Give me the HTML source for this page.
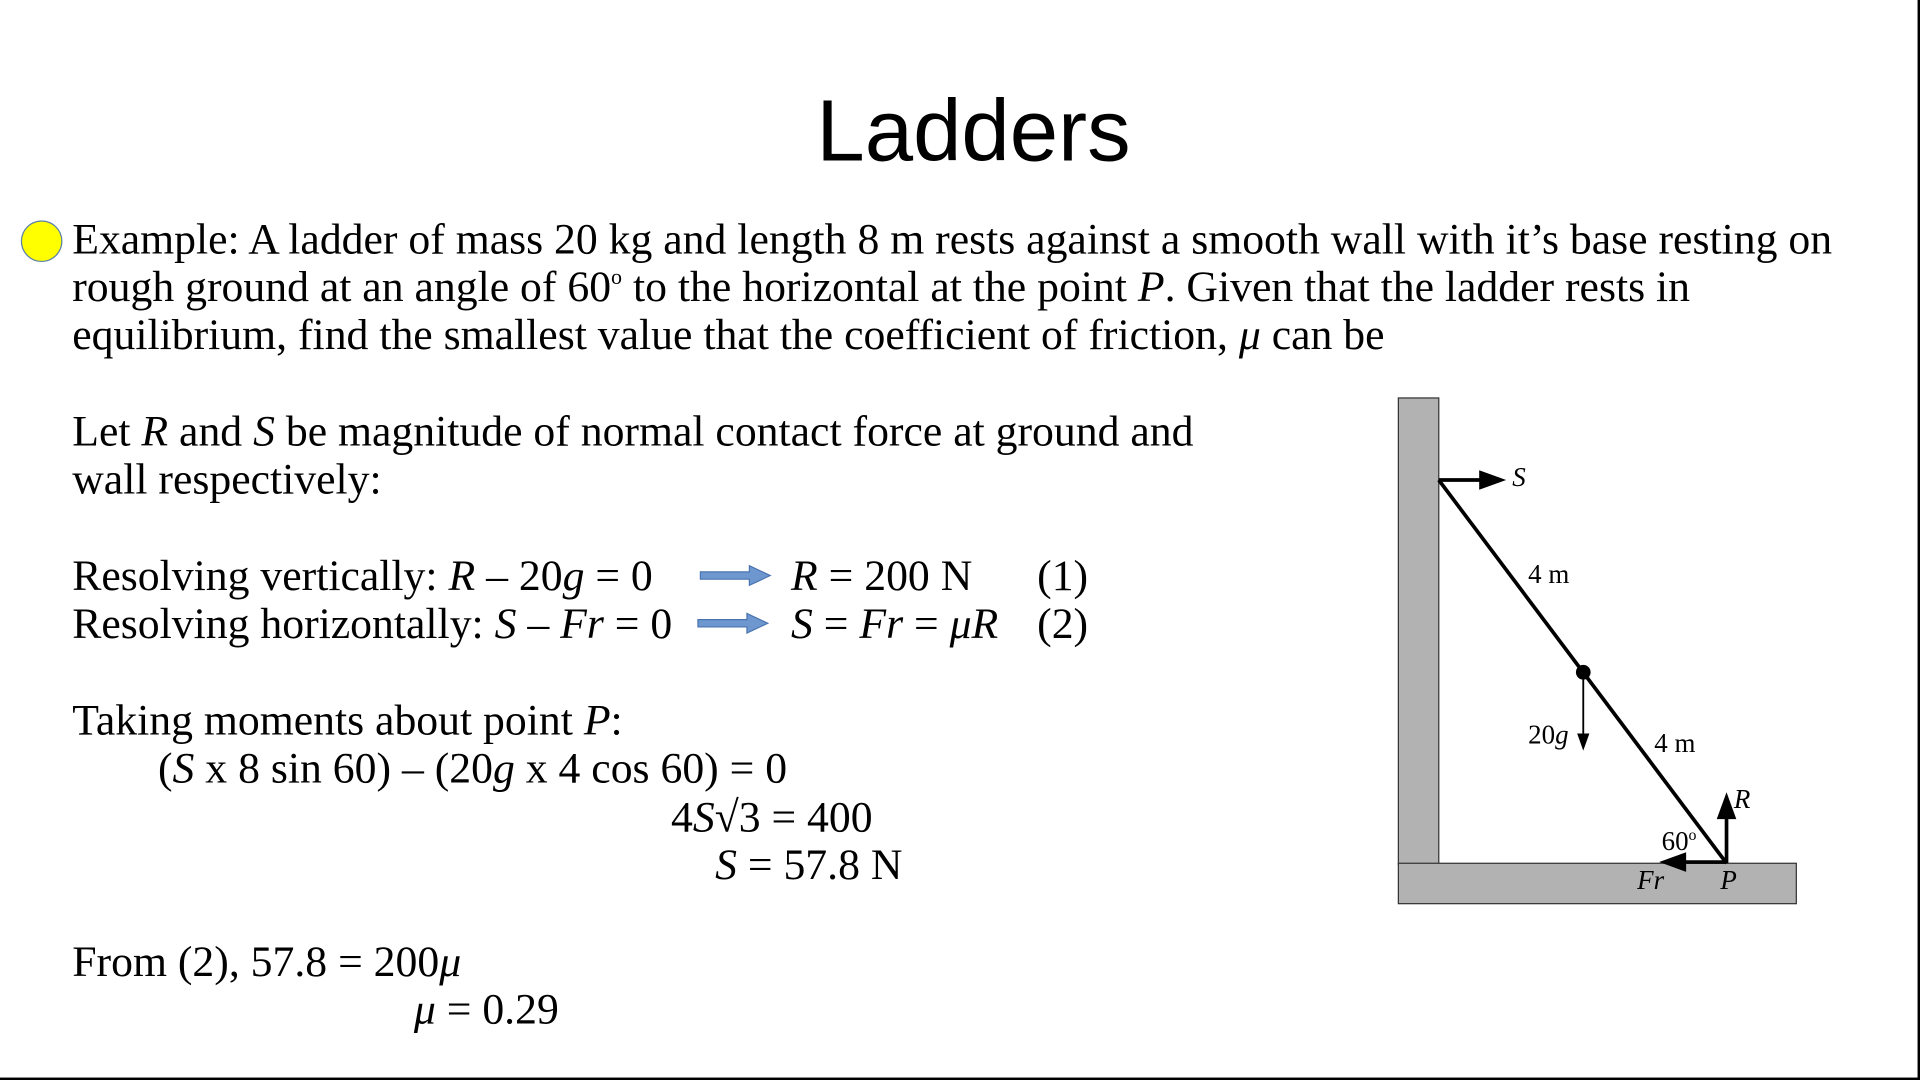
<!DOCTYPE html>
<html><head><meta charset="utf-8"><style>
html,body{margin:0;padding:0;background:#fff;overflow:hidden}
#s{position:absolute;left:0;top:0;width:1568px;height:882px;transform:scale(1.22449);transform-origin:0 0;font-family:"Liberation Serif",serif;color:#000}
.t{position:absolute;white-space:nowrap;font-size:35.7px;line-height:39px}
i{font-style:italic}
sup{font-size:18px;line-height:0;vertical-align:0;position:relative;top:-14px}
</style></head><body><div id="s">
<div style="position:absolute;left:1566px;top:0;width:2px;height:882px;background:#000"></div>
<div style="position:absolute;left:0;top:880px;width:1568px;height:2px;background:#000"></div>
<div class="t" style="left:0;width:1590px;text-align:center;top:67px;font-family:'Liberation Sans',sans-serif;font-size:71px;line-height:82px">Ladders</div>
<div style="position:absolute;left:17px;top:180px;width:32px;height:32px;border-radius:50%;background:#ff0;border:1px solid #5a7fa8"></div>
<div class="t" style="left:59px;top:176px">Example: A ladder of mass 20 kg and length 8 m rests against a smooth wall with it’s base resting on<br>rough ground at an angle of 60<sup>o</sup> to the horizontal at the point <i>P</i>. Given that the ladder rests in<br>equilibrium, find the smallest value that the coefficient of friction, <i>μ</i> can be</div>
<div class="t" style="left:59px;top:333px">Let <i>R</i> and <i>S</i> be magnitude of normal contact force at ground and<br>wall respectively:</div>
<div class="t" style="left:59px;top:451px">Resolving vertically: <i>R</i> – 20<i>g</i> = 0</div>
<div class="t" style="left:59px;top:490px">Resolving horizontally: <i>S</i> – <i>Fr</i> = 0</div>
<div class="t" style="left:646px;top:451px"><i>R</i> = 200 N</div>
<div class="t" style="left:646px;top:490px"><i>S</i> = <i>Fr</i> = <i>μR</i></div>
<div class="t" style="left:847px;top:451px">(1)</div>
<div class="t" style="left:847px;top:490px">(2)</div>
<svg style="position:absolute;left:0;top:0" width="1568" height="882">
<path d="M572 467 h40 v-5 l17 8 l-17 8 v-5 h-40z" fill="#6f97cf" stroke="#4a74b0" stroke-width="1"/>
<path d="M570 506 h40 v-5 l17 8 l-17 8 v-5 h-40z" fill="#6f97cf" stroke="#4a74b0" stroke-width="1"/>
<rect x="1142" y="325" width="33" height="381" fill="#b2b2b2" stroke="#333" stroke-width="1"/>
<rect x="1142" y="705" width="325" height="33" fill="#b2b2b2" stroke="#333" stroke-width="1"/>
<line x1="1175" y1="392" x2="1410" y2="705" stroke="#000" stroke-width="3"/>
<circle cx="1293" cy="549" r="6" fill="#000"/>
<line x1="1293" y1="549" x2="1293" y2="600" stroke="#000" stroke-width="1.5"/>
<path d="M1288 599 l5 14 l5 -14z" fill="#000"/>
<line x1="1175" y1="392" x2="1210" y2="392" stroke="#000" stroke-width="3"/>
<path d="M1208 384 l22 8 l-22 8z" fill="#000"/>
<line x1="1410" y1="705" x2="1410" y2="668" stroke="#000" stroke-width="3"/>
<path d="M1402 669 l8 -22 l8 22z" fill="#000"/>
<line x1="1410" y1="704" x2="1375" y2="704" stroke="#000" stroke-width="3"/>
<path d="M1377 696 l-22 8 l22 8z" fill="#000"/>
<g font-family="Liberation Serif,serif" font-size="22">
<text x="1235" y="397" font-style="italic">S</text>
<text x="1248" y="476">4 m</text>
<text x="1351" y="614">4 m</text>
<text x="1248" y="607">20<tspan font-style="italic">g</tspan></text>
<text x="1416" y="660" font-style="italic">R</text>
<text x="1357" y="694">60<tspan font-size="13" dy="-8">o</tspan></text>
<text x="1337" y="726" font-style="italic">Fr</text>
<text x="1405" y="726" font-style="italic">P</text>
</g></svg>
<div class="t" style="left:59px;top:569px">Taking moments about point <i>P</i>:</div>
<div class="t" style="left:129px;top:608px">(<i>S</i> x 8 sin 60) – (20<i>g</i> x 4 cos 60) = 0</div>
<div class="t" style="left:548px;top:648px">4<i>S</i>√3 = 400</div>
<div class="t" style="left:584px;top:687px"><i>S</i> = 57.8 N</div>
<div class="t" style="left:59px;top:766px">From (2), 57.8 = 200<i>μ</i></div>
<div class="t" style="left:338px;top:805px"><i>μ</i> = 0.29</div>
</div></body></html>
